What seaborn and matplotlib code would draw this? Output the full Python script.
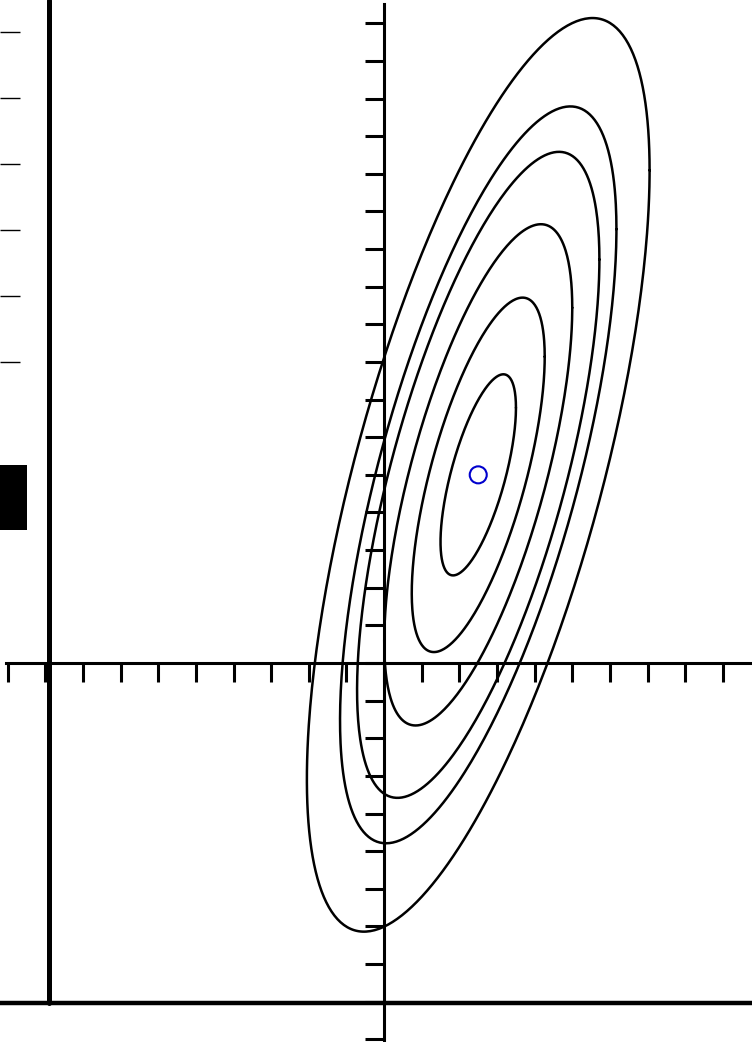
import numpy as np
import pandas as pd
import matplotlib
matplotlib.use("Agg")
import matplotlib.pyplot as plt
from matplotlib.patches import Rectangle
import seaborn as sns

# Bivariate normal: mean vector and covariance matrix
mean = [2.5, 5.0]
cov = [[2.25, 4.0],
       [4.0, 16.0]]
# Probability mass enclosed by each confidence ellipse
probs = [0.2, 0.5, 0.75, 0.9, 0.95, 0.99]

x_ticks = list(range(-10, 10))
y_ticks = list(range(-10, 18))
side_ticks = [32, 98, 164, 230, 296, 362]

sns.set_style("white")
plt.rcParams["font.family"] = ["DejaVu Sans"]

W, H = 752, 1042
fig = plt.figure(figsize=(W / 100, H / 100), dpi=100)

# Outer frame: heavy left/bottom rules with thin inward ticks on the far left
frame = fig.add_axes([0, 0, 1, 1])
frame.set_xlim(0, W)
frame.set_ylim(H, 0)
frame.axis("off")
frame.axvline(48.8, ymin=(H - 1003) / H, ymax=1, color="black", lw=3.6, zorder=1)
frame.axhline(1003, color="black", lw=3.2, zorder=1)
for t in side_ticks:
    frame.plot([0, 20], [t, t], color="black", lw=1.0, solid_capstyle="butt")
frame.add_patch(Rectangle((0, 465), 27, 65, color="black", lw=0))

# Main axes with spines crossing at the origin
ax = fig.add_axes([0, 0, 1, 1])
ax.patch.set_alpha(0)
ax.set_xlim(-10.205, 9.773)
ax.set_ylim(-10.072, 17.619)

L = np.linalg.cholesky(np.array(cov))
t = np.linspace(0, 2 * np.pi, 400)
circle = np.vstack([np.cos(t), np.sin(t)])
rows = []
for p in probs:
    r = np.sqrt(-2.0 * np.log(1.0 - p))
    pts = np.array(mean)[:, None] + r * (L @ circle)
    rows.append(pd.DataFrame({"x": pts[0], "y": pts[1], "level": p,
                              "step": np.arange(len(t))}))
ellipses = pd.concat(rows, ignore_index=True)

sns.lineplot(data=ellipses, x="x", y="y", units="level", estimator=None,
             sort=False, color="black", lw=1.8, ax=ax, legend=False)
sns.scatterplot(x=[mean[0]], y=[mean[1]], ax=ax, marker="o", s=150,
                facecolor="none", edgecolor="mediumblue", linewidth=1.5,
                zorder=5, legend=False)

for side in ("top", "right"):
    ax.spines[side].set_visible(False)
ax.spines["left"].set_position(("data", 0))
ax.spines["bottom"].set_position(("data", 0))
ax.spines["left"].set_bounds(-10.02, 17.5)
ax.spines["bottom"].set_bounds(-10.05, 9.8)
for side in ("left", "bottom"):
    ax.spines[side].set_linewidth(2.2)
    ax.spines[side].set_color("black")
ax.set_xticks(x_ticks)
ax.set_yticks(y_ticks)
ax.tick_params(axis="both", which="major", direction="out", length=13.7,
               width=2.2, color="black", bottom=True, left=True,
               labelleft=False, labelbottom=False)
ax.set_xlabel("")
ax.set_ylabel("")

fig.savefig("out.png", dpi=100)
